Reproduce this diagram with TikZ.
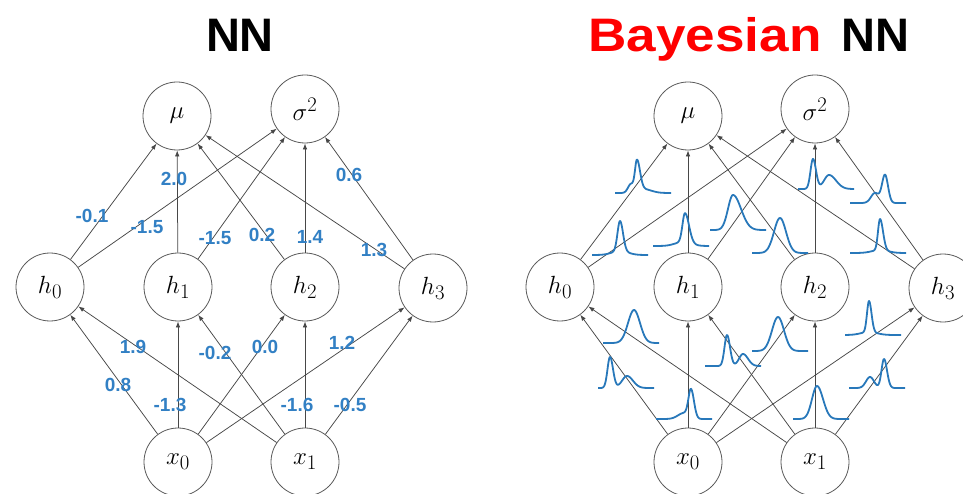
\documentclass[tikz,border=0pt]{standalone}
\usepackage{fontspec}
\usepackage{graphicx}
\setmainfont{Liberation Sans}
\usetikzlibrary{arrows.meta}
\definecolor{nnblue}{RGB}{50,128,196}
\definecolor{nncurve}{RGB}{40,120,186}
\definecolor{nnred}{RGB}{255,0,0}
\newcommand{\gss}[3]{exp(max(-20,-0.5*((\x-(#1))/((\x<(#1))?(#2):(#3)))^2))}
\newcommand{\distr}[3]{\draw[distline] plot[domain=0:56,samples=120] ({#1+\x},{#2-(#3)});}
\begin{document}
\begin{tikzpicture}[x=1pt,y=-1pt,
 neuron/.style={circle, draw=black!65, line width=0.8pt, minimum size=68pt, inner sep=0pt, font=\fontsize{24.88}{30}\selectfont},
 conn/.style={draw=black!72, line width=0.75pt, -{Latex[length=6pt,width=4.5pt]}},
 wlab/.style={text=nnblue, font=\fontsize{19}{22}\selectfont\bfseries, inner sep=0pt},
 distline/.style={draw=nncurve, line width=1.8pt, line join=round},
 ttl/.style={font=\fontsize{47}{56}\selectfont\bfseries, inner sep=0pt, anchor=base}]
\useasboundingbox (0,0) rectangle (963,494);
% titles
\node[ttl] (t1) at (240,52) {NN};
\node[ttl] (t2) at (749,52) {\textcolor{nnred}{\scalebox{1.13}[1]{Bayesian}}\hspace{7pt} NN};
% left network
\node[neuron] (Lmu) at (177,116) {$\mu$};
\node[neuron] (Lsig) at (305,109) {$\sigma^2$};
\node[neuron] (Lh0) at (50,287) {$h_0$};
\node[neuron] (Lh1) at (178,287) {$h_1$};
\node[neuron] (Lh2) at (305,287) {$h_2$};
\node[neuron] (Lh3) at (433,288) {$h_3$};
\node[neuron] (Lx0) at (178,462) {$x_0$};
\node[neuron] (Lx1) at (305,462) {$x_1$};
% right network
\node[neuron] (Rmu) at (688,116) {$\mu$};
\node[neuron] (Rsig) at (815,109) {$\sigma^2$};
\node[neuron] (Rh0) at (560,287) {$h_0$};
\node[neuron] (Rh1) at (688,287) {$h_1$};
\node[neuron] (Rh2) at (815,287) {$h_2$};
\node[neuron] (Rh3) at (943,288) {$h_3$};
\node[neuron] (Rx0) at (688,462) {$x_0$};
\node[neuron] (Rx1) at (815,462) {$x_1$};
% connectors
\foreach \s in {L,R}{
  \foreach \h in {0,1,2,3}{
    \draw[conn] (\s h\h) -- (\s mu);
    \draw[conn] (\s h\h) -- (\s sig);
    \draw[conn] (\s x0) -- (\s h\h);
    \draw[conn] (\s x1) -- (\s h\h);
  }
}
% weights (left)
\node[wlab] (w1) at (92,216) {-0.1};
\node[wlab] (w2) at (147,227) {-1.5};
\node[wlab] (w3) at (174,179) {2.0};
\node[wlab] (w4) at (215,238) {-1.5};
\node[wlab] (w5) at (262,235) {0.2};
\node[wlab] (w6) at (310,237) {1.4};
\node[wlab] (w7) at (374,250) {1.3};
\node[wlab] (w8) at (349,175) {0.6};
\node[wlab] (w9) at (133,347) {1.9};
\node[wlab] (w10) at (118,385) {0.8};
\node[wlab] (w11) at (170,405) {-1.3};
\node[wlab] (w12) at (215,353) {-0.2};
\node[wlab] (w13) at (265,347) {0.0};
\node[wlab] (w14) at (342,343) {1.2};
\node[wlab] (w15) at (297,405) {-1.6};
\node[wlab] (w16) at (350,405) {-0.5};
% weight distributions (right)
\distr{615}{193}{31*\gss{22}{2}{3}+9*\gss{16}{3}{3}+4*\gss{28}{4}{8}}
\distr{592}{255}{30*\gss{28}{2.5}{3}+4*\gss{28}{8}{8}}
\distr{653}{246}{29*\gss{32}{2.5}{4}+4*\gss{30}{8}{8}}
\distr{710}{230}{35*\gss{23}{5}{8}}
\distr{752}{253}{35*\gss{28}{6}{6}}
\distr{798}{189}{30*\gss{15}{2.5}{3}+14*\gss{31}{5}{7}}
\distr{850}{203}{28*\gss{35}{3}{3}+10*\gss{25}{4}{4}}
\distr{850}{253}{31*\gss{30}{2}{3}+3*\gss{30}{8}{8}}
\distr{603}{343}{33*\gss{31}{6}{6}}
\distr{598}{388}{31*\gss{12}{2.5}{3}+12*\gss{29}{5}{6}}
\distr{656}{419}{28*\gss{35}{2.5}{3}+6*\gss{28}{6}{5}}
\distr{705}{366}{31*\gss{22}{2.5}{3}+12*\gss{38}{4}{5}}
\distr{752}{351}{34*\gss{26}{6}{6}}
\distr{845}{335}{31*\gss{24}{2}{2.5}+3*\gss{24}{8}{8}}
\distr{849}{388}{29*\gss{35}{2.5}{3}+11*\gss{21}{4}{4}}
\distr{793}{419}{33*\gss{24}{5}{6}}
\end{tikzpicture}
\end{document}
